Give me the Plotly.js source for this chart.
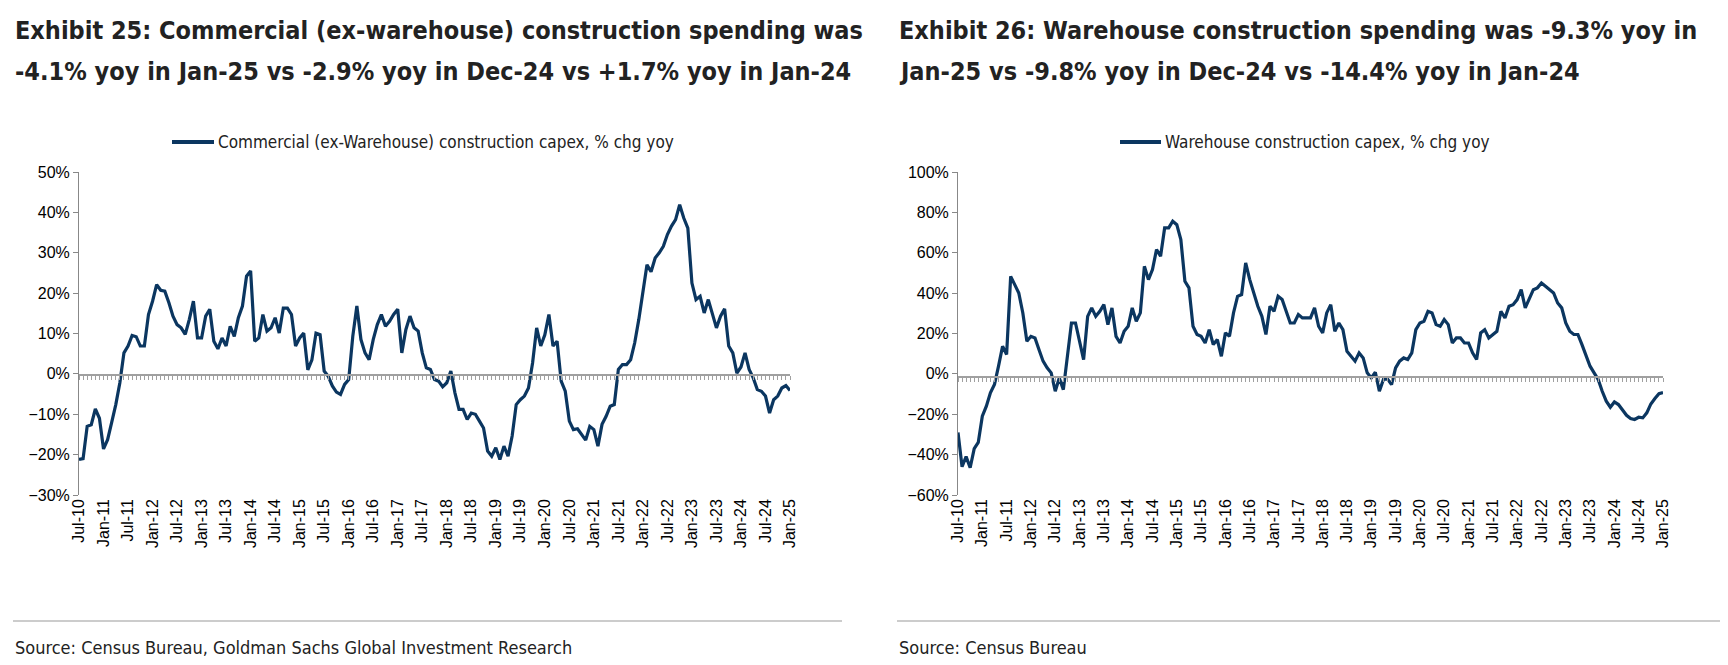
<!DOCTYPE html>
<html>
<head>
<meta charset="utf-8">
<script src="https://cdn.plot.ly/plotly-3.0.1.min.js"></script>
<style>body{margin:0;background:#fff}#chart{width:1728px;height:665px}</style>
</head>
<body>
<div id="chart"></div>
<script>
// monthly yoy % change, Jul-10 .. Jan-25
const commercial = [
  -21.2,-21,-13,-12.6,-8.7,-11,-18.6,-16.3,-12,-7.6,-2.2,5.2,6.9,9.5,9.2,6.9,6.9,14.7,18,22.1,
  20.7,20.5,17.6,14.3,12.2,11.4,9.8,13.5,18,8.9,8.9,14.3,16,8.1,6.2,8.9,6.9,11.8,9.3,13.9,
  16.8,24.2,25.5,
  8.1,8.9,14.7,10.6,11.4,13.9,10.1,16.3,16.3,14.7,6.9,8.9,10.1,1,3.5,10.1,9.7,0.7,-0.6,-3,
  -4.5,-5.1,-2.6,-1.4,9.3,16.8,8.5,5.2,3.5,8.5,12.2,14.7,11.8,13,14.7,16,5.2,
  11,14.3,11.4,10.6,5.2,1.5,1.1,-1.4,-1.8,-3.2,-2.2,0.7,-4.7,-8.8,-8.8,-11.3,-9.7,-10,-11.7,-13.4,
  -19.1,-20.4,-18.3,-21.2,-17.9,-20.4,-15.4,-7.6,-6.4,-5.5,-3.5,2.7,11.4,6.9,9.7,14.7,6.9,8.1,-1.8,-4.3,
  -11.7,-13.8,-13.6,-15,-16.4,-13,-13.8,-17.9,-12.5,-10.5,-8,-7.6,1.1,2.3,2.3,3.5,7.7,13.5,20,27,
  25.3,28.7,30,31.6,34.5,36.6,38.2,41.9,38.6,36.1,22.5,18.4,19.2,15.1,18.4,14.7,11.4,14.3,16.1,6.9,
  5.2,0.2,1.7,5.2,
  1.1,-1,-3.9,-4.3,-5.5,-9.7,-6.4,-5.5,-3.5,-2.9,-4.1
];
const warehouse = [
  -29,-46,-41,-46.5,-37,-34,-21,-16,-9.4,-5.3,3.8,13.7,9.6,48.3,44.2,40.1,30.2,16.2,18.6,17.8,
  12,6.3,3,0.5,-8.6,-2,-7.8,10.4,25.2,25.2,16.2,7.1,28.5,32.7,28.5,31,34.3,24.4,32.7,18.6,
  15.3,21.1,23.6,32.7,26.1,30.2,53.3,46.7,51.7,61.6,58.3,72.3,72.3,75.6,73.9,
  66.5,45.9,42.6,23.6,19.5,18.6,15.3,21.9,14.5,17,8.7,20.3,18.6,30.2,38.4,39.3,55,46.7,40.1,33.5,
  28.5,19.5,33.5,31,38.4,36.8,31,25.2,25.2,29.4,27.7,27.7,27.7,32.7,23.6,20.3,30.2,34.3,21.1,25.2,
  21.9,11.2,8.7,6.3,10.4,7.9,0.5,-2,0.8,-8.6,-2.8,-2.5,-5.3,3,6.3,7.9,7.1,10.4,21.9,25.2,
  26.1,31,30.2,24.4,23.6,26.9,24.4,15.3,17.8,17.8,15.3,15.3,10.4,7.1,20.3,21.9,17.8,19.5,21.1,
  31,27.7,33.5,34.3,36.8,41.7,32.7,36.8,41.7,42.6,45,43.4,41.7,40.1,35.1,32.7,25.2,21.1,19.5,19.5,
  14.5,8.7,3.8,0.5,-2.8,-8.6,-13.5,-16.5,-13.9,-15.2,-17.7,-20.5,-22.1,-22.6,-21.5,-21.8,-19.3,-14.9,-12.2,-9.8,-9.3
];
const monthNames = ['Jan','Feb','Mar','Apr','May','Jun','Jul','Aug','Sep','Oct','Nov','Dec'];
const months = [];
for (let i = 0; i < commercial.length; i++) {
  const m = (6 + i) % 12, y = 10 + Math.floor((6 + i) / 12);
  months.push(monthNames[m] + '-' + String(y).padStart(2, '0'));
}
const tickLabels = months.filter(function (m) { return m.startsWith('Jan') || m.startsWith('Jul'); });
const blank = months.map(function () { return null; });

const navy = '#0b3660';
const W = 1728, H = 665;
const px = function (x) { return x / W; };
const py = function (y) { return 1 - y / H; };
const ydom = [py(495), py(172)];
const narrow = '"DejaVu Sans Condensed", "Liberation Sans Narrow", "Arial Narrow", sans-serif';
const sans = '"Liberation Sans", Arial, sans-serif';

function xMain(dom) {
  return {
    domain: dom, type: 'category', range: [0, months.length - 1],
    tickvals: tickLabels, ticktext: tickLabels, tickangle: -90,
    tickfont: { family: sans, size: 16, color: '#000' },
    showgrid: false, showline: false, ticks: '', zeroline: false
  };
}
function xZero(over, pos) {
  return {
    overlaying: over, anchor: 'free', position: pos, type: 'category',
    range: [0, months.length - 1], tickvals: months,
    showticklabels: false, ticks: 'outside', ticklen: 4, tickcolor: '#a0a0a0',
    showline: true, linecolor: '#a0a0a0', linewidth: 1.5, showgrid: false, zeroline: false
  };
}
function yAx(range, dtick, anchor) {
  return {
    domain: ydom, range: range, dtick: dtick, ticksuffix: '%', anchor: anchor,
    showgrid: false, zeroline: false, showline: true, linecolor: '#888', linewidth: 1,
    ticks: 'outside', ticklen: 5, tickcolor: '#888',
    tickfont: { family: sans, size: 16, color: '#000' }
  };
}

const traces = [
  // empty traces so the zero-line tick axes are drawn
  { x: months, y: blank, xaxis: 'x3', yaxis: 'y', type: 'scatter', mode: 'lines', showlegend: false, hoverinfo: 'skip' },
  { x: months, y: blank, xaxis: 'x4', yaxis: 'y2', type: 'scatter', mode: 'lines', showlegend: false, hoverinfo: 'skip' },
  { x: months, y: commercial, xaxis: 'x', yaxis: 'y', type: 'scatter', mode: 'lines',
    line: { color: navy, width: 3.2 }, showlegend: false },
  { x: months, y: warehouse, xaxis: 'x2', yaxis: 'y2', type: 'scatter', mode: 'lines',
    line: { color: navy, width: 3.2 }, showlegend: false }
];

function txt(x, y, s, size, fam, bold, anchor) {
  return { xref: 'paper', yref: 'paper', x: px(x), y: py(y), xanchor: anchor || 'left', yanchor: 'middle',
    showarrow: false, text: bold ? '<b>' + s + '</b>' : s, font: { family: fam, size: size, color: '#222' } };
}

const layout = {
  width: W, height: H, margin: { l: 0, r: 0, t: 0, b: 0 },
  paper_bgcolor: '#fff', plot_bgcolor: 'rgba(0,0,0,0)', showlegend: false,
  xaxis: xMain([px(79), px(790)]),
  xaxis2: xMain([px(958), px(1663)]),
  xaxis3: xZero('x', py(374)),
  xaxis4: xZero('x2', py(376)),
  yaxis: yAx([-30, 50], 10, 'x'),
  yaxis2: yAx([-60, 100], 20, 'x2'),
  annotations: [
    txt(13, 31, 'Exhibit 25: Commercial (ex-warehouse) construction spending was', 25, narrow, true),
    txt(13, 72, '-4.1% yoy in Jan-25 vs -2.9% yoy in Dec-24 vs +1.7% yoy in Jan-24', 25, narrow, true),
    txt(897, 31, 'Exhibit 26: Warehouse construction spending was -9.3% yoy in', 25, narrow, true),
    txt(897, 72, 'Jan-25 vs -9.8% yoy in Dec-24 vs -14.4% yoy in Jan-24', 25, narrow, true),
    txt(216, 142, 'Commercial (ex-Warehouse) construction capex, % chg yoy', 17, narrow, false),
    txt(1163, 142, 'Warehouse construction capex, % chg yoy', 17, narrow, false),
    txt(13, 647, 'Source: Census Bureau, Goldman Sachs Global Investment Research', 18, narrow, false),
    txt(897, 647, 'Source: Census Bureau', 18, narrow, false)
  ],
  shapes: [
    { type: 'line', xref: 'paper', yref: 'paper', x0: px(172), x1: px(214), y0: py(142), y1: py(142), line: { color: navy, width: 4 } },
    { type: 'line', xref: 'paper', yref: 'paper', x0: px(1120), x1: px(1161), y0: py(142), y1: py(142), line: { color: navy, width: 4 } },
    { type: 'line', xref: 'paper', yref: 'paper', x0: px(13), x1: px(842), y0: py(621), y1: py(621), line: { color: '#999', width: 1 } },
    { type: 'line', xref: 'paper', yref: 'paper', x0: px(897), x1: px(1720), y0: py(621), y1: py(621), line: { color: '#999', width: 1 } }
  ]
};

Plotly.newPlot('chart', traces, layout, { staticPlot: true });
</script>
</body>
</html>
